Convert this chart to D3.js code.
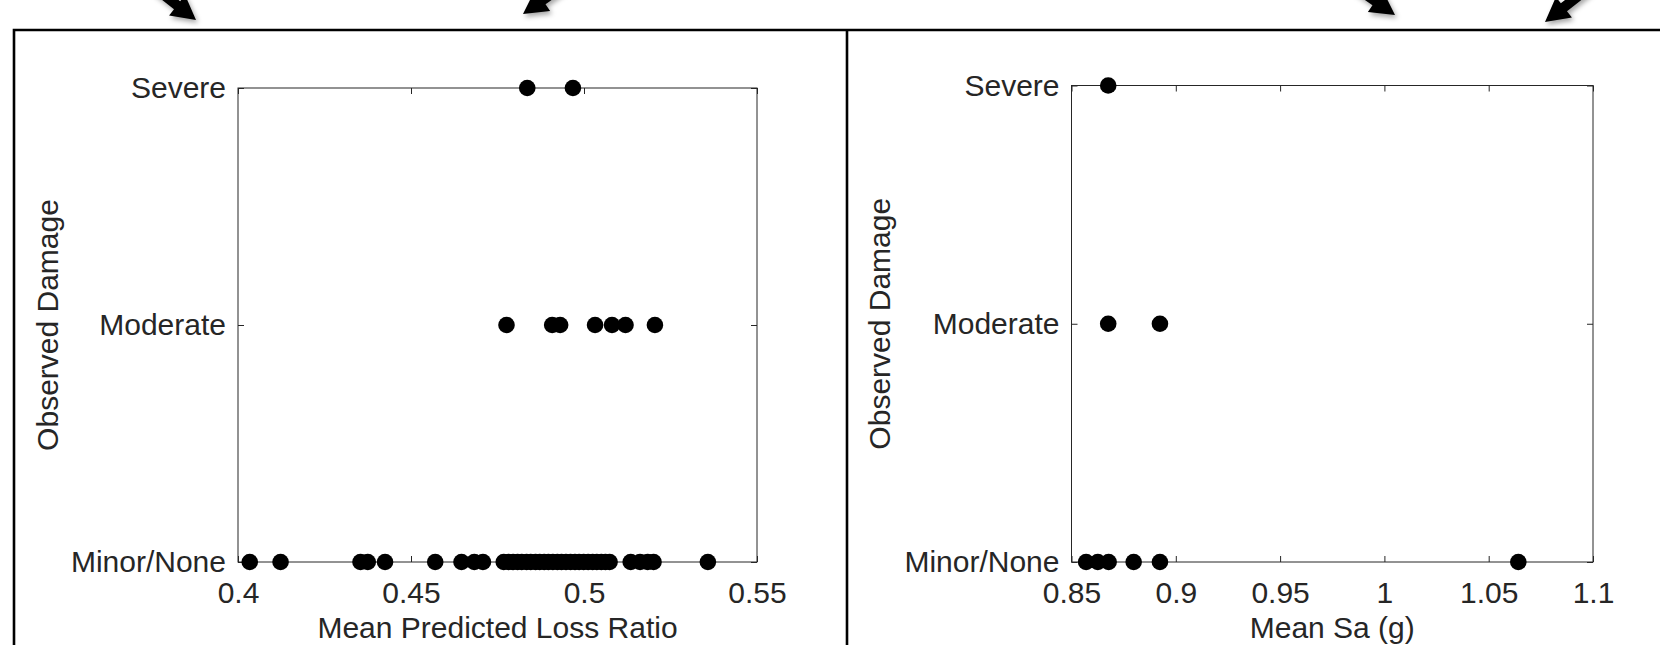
<!DOCTYPE html>
<html><head><meta charset="utf-8">
<script src="https://cdn.jsdelivr.net/npm/d3@7"></script>
<style>
html,body{margin:0;padding:0;background:#fff;}
svg{display:block;}
text{font-family:"Liberation Sans",Arial,Helvetica,sans-serif;}
</style></head><body>
<svg id="chart" width="1660" height="645"></svg>
<script>
// ---------- data ----------
const damageLevels = ["Minor/None", "Moderate", "Severe"];

const lossTicks = [0.4, 0.45, 0.5, 0.55];
const lossTickLabels = ["0.4", "0.45", "0.5", "0.55"];
const saTicks = [0.85, 0.9, 0.95, 1, 1.05, 1.1];
const saTickLabels = ["0.85", "0.9", "0.95", "1", "1.05", "1.1"];

const lossSevere = [0.4836, 0.4968];
const lossModerate = [0.4776, 0.4908, 0.4931, 0.5032, 0.5081, 0.5120, 0.5205];
const lossMinor = [0.4034, 0.4123, 0.4354, 0.4375, 0.4425, 0.4570, 0.4646, 0.4683, 0.4708,
  0.4768, 0.4782, 0.4795, 0.4808, 0.4820, 0.4834, 0.4846, 0.4860, 0.4872, 0.4885, 0.4897,
  0.4910, 0.4923, 0.4935, 0.4948, 0.4961, 0.4974, 0.4986, 0.4999, 0.5012, 0.5025, 0.5037,
  0.5050, 0.5062, 0.5074,
  0.5135, 0.5162, 0.5184, 0.5201, 0.5358];

const saSevere = [0.8676];
const saModerate = [0.8676, 0.8924];
const saMinor = [0.8570, 0.8626, 0.8678, 0.8798, 0.8924, 1.0642];

const yTitle = "Observed Damage";
const lossTitle = "Mean Predicted Loss Ratio";
const saTitle = "Mean Sa (g)";

// decorative arrows at the top (annotation, not data)
const arrowTips = [[196, 20, 38], [523, 14, 145], [1395, 15, 35], [1545, 22, 142]];

// ---------- drawing ----------
const svg = d3.select("#chart");
const ink = "#262626";
const fontSize = 30;

const defs = svg.append("defs");
const f = defs.append("filter").attr("id", "shadow").attr("x", "-50%").attr("y", "-50%").attr("width", "200%").attr("height", "200%");
f.append("feDropShadow").attr("dx", 2).attr("dy", 3).attr("stdDeviation", 2.5).attr("flood-color", "#000").attr("flood-opacity", 0.35);

// arrows
arrowTips.forEach(([tx, ty, ang]) => {
  const a = ang * Math.PI / 180;
  const ux = Math.cos(a), uy = Math.sin(a);
  const px = -uy, py = ux;
  const hl = 24, hw = 13, sw = 5, L = 90;
  const bx = tx - ux * hl, by = ty - uy * hl;
  const ex = tx - ux * L, ey = ty - uy * L;
  const pts = [
    [tx, ty],
    [bx + px * hw, by + py * hw],
    [bx + px * sw, by + py * sw],
    [ex + px * sw, ey + py * sw],
    [ex - px * sw, ey - py * sw],
    [bx - px * sw, by - py * sw],
    [bx - px * hw, by - py * hw]
  ];
  svg.append("path").attr("d", d3.line()(pts) + "Z").attr("fill", "#000").attr("filter", "url(#shadow)");
});

// outer frame
svg.append("path")
  .attr("d", "M14,645 L14,30 L1660,30 M847,30 L847,645")
  .attr("fill", "none").attr("stroke", "#000").attr("stroke-width", 2.6);

const panels = [
  { domain: [0.4, 0.55], ticks: lossTicks, labels: lossTickLabels, x0: 238, x1: 757, yTop: 88, yBottom: 562,
    series: [lossMinor, lossModerate, lossSevere], title: lossTitle, yTitleX: 58 },
  { domain: [0.85, 1.1], ticks: saTicks, labels: saTickLabels, x0: 1071.5, x1: 1593, yTop: 85.5, yBottom: 562,
    series: [saMinor, saModerate, saSevere], title: saTitle, yTitleX: 890 }
];

function styleAxis(sel) {
  sel.select(".domain").remove();
  sel.selectAll(".tick line").attr("stroke", ink).attr("stroke-width", 1);
  sel.selectAll(".tick text").attr("fill", ink).style("font-size", fontSize + "px")
    .style("font-family", '"Liberation Sans", Arial, Helvetica, sans-serif');
}

panels.forEach(p => {
  const g = svg.append("g");
  const x = d3.scaleLinear().domain(p.domain).range([p.x0, p.x1]);
  const y = d3.scalePoint().domain(damageLevels).range([p.yBottom, p.yTop]);

  g.append("rect")
    .attr("x", p.x0).attr("y", p.yTop)
    .attr("width", p.x1 - p.x0).attr("height", p.yBottom - p.yTop)
    .attr("fill", "none").attr("stroke", ink).attr("stroke-width", 1);

  g.append("g").attr("transform", `translate(0,${p.yBottom})`)
    .call(d3.axisBottom(x).tickValues(p.ticks).tickFormat((d, i) => p.labels[i]).tickSize(-6).tickPadding(20))
    .call(styleAxis);
  g.append("g").attr("transform", `translate(0,${p.yTop})`)
    .call(d3.axisTop(x).tickValues(p.ticks).tickFormat("").tickSize(-6))
    .call(styleAxis);
  g.append("g").attr("transform", `translate(${p.x0},0)`)
    .call(d3.axisLeft(y).tickSize(-6).tickPadding(12))
    .call(styleAxis);
  g.append("g").attr("transform", `translate(${p.x1},0)`)
    .call(d3.axisRight(y).tickFormat("").tickSize(-6))
    .call(styleAxis);

  // axis titles
  g.append("text")
    .attr("x", (p.x0 + p.x1) / 2).attr("y", 638)
    .attr("text-anchor", "middle").attr("fill", ink).style("font-size", fontSize + "px")
    .text(p.title);
  g.append("text")
    .attr("transform", `translate(${p.yTitleX},${(p.yTop + p.yBottom) / 2}) rotate(-90)`)
    .attr("text-anchor", "middle").attr("fill", ink).style("font-size", fontSize + "px")
    .text(yTitle);

  // points
  damageLevels.forEach((lvl, i) => {
    g.append("g").selectAll("circle").data(p.series[i]).join("circle")
      .attr("cx", d => x(d)).attr("cy", y(lvl)).attr("r", 8.3).attr("fill", "#000");
  });
});
</script>
</body></html>
